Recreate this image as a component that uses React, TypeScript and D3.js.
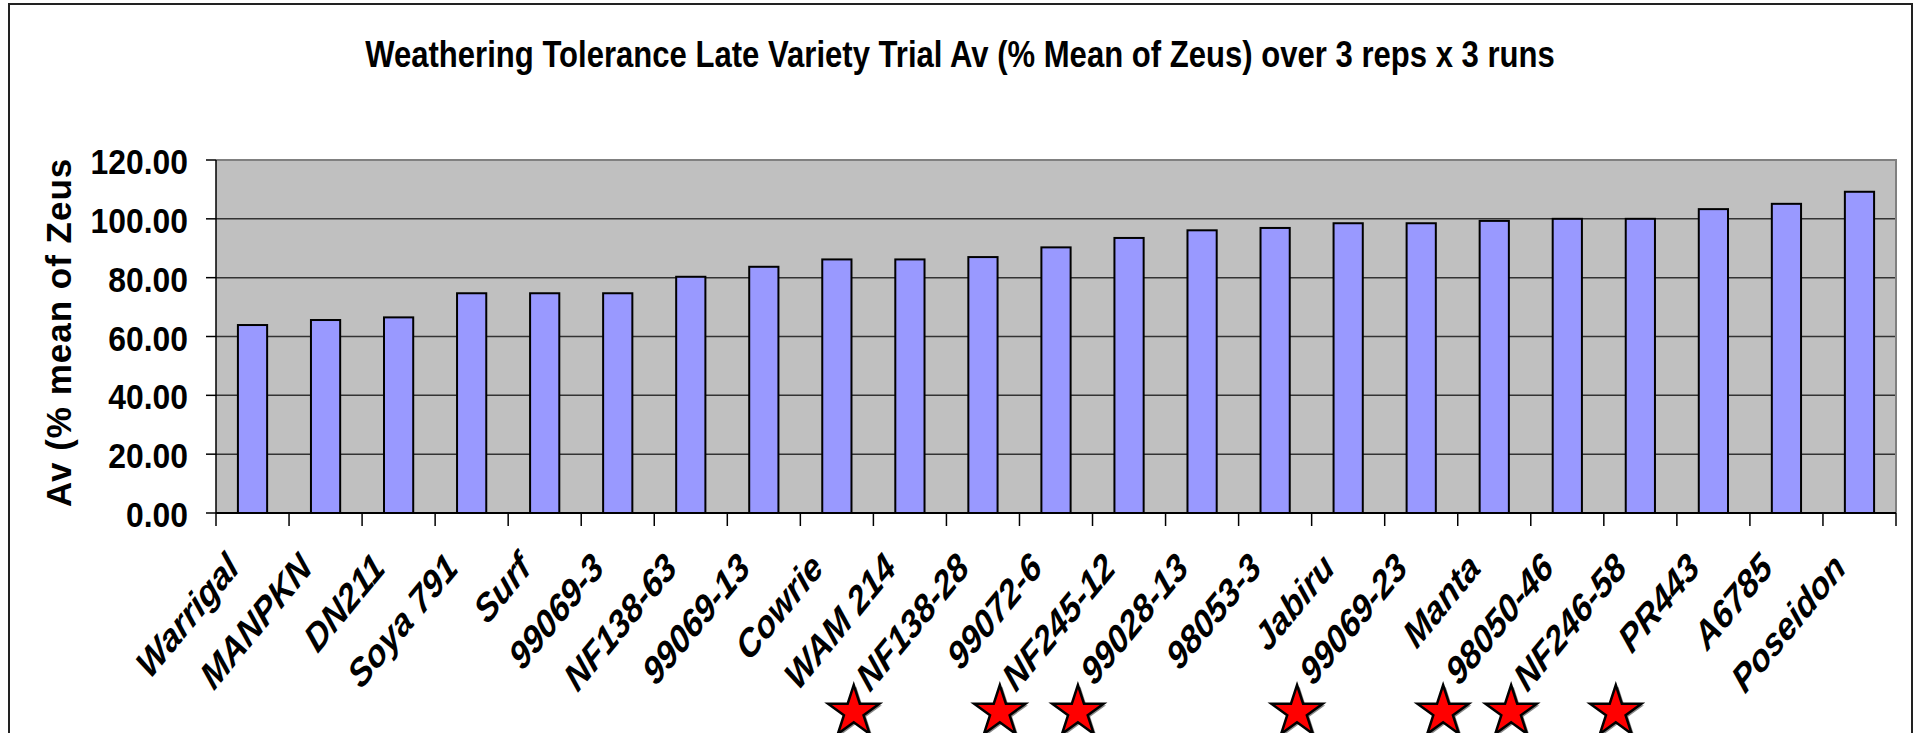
import { useEffect, useRef } from "react";
import * as d3 from "d3";

const varieties = [
  "Warrigal", "MANPKN", "DN211", "Soya 791", "Surf", "99069-3", "NF138-63", "99069-13",
  "Cowrie", "WAM 214", "NF138-28", "99072-6", "NF245-12", "99028-13", "98053-3", "Jabiru",
  "99069-23", "Manta", "98050-46", "NF246-58", "PR443", "A6785", "Poseidon",
];
const avPctZeus = [
  63.9, 65.6, 66.5, 74.7, 74.7, 74.7, 80.3, 83.7,
  86.2, 86.2, 87.0, 90.3, 93.5, 96.1, 96.9, 98.5,
  98.5, 99.3, 100.0, 100.0, 103.3, 105.1, 109.2,
];
const yTicks = [0, 20, 40, 60, 80, 100, 120];
const starred = ["NF138-28", "NF245-12", "99028-13", "99069-23", "98050-46", "NF246-58", "PR443"];
const chartTitle = "Weathering Tolerance Late Variety Trial Av (% Mean of Zeus) over 3 reps x 3 runs";
const yAxisTitle = "Av (% mean of Zeus";

const W = 1915;
const H = 733;
const FONT = "'Liberation Sans', Arial, sans-serif";

export default function App() {
  const svgRef = useRef<SVGSVGElement>(null);

  useEffect(() => {
    if (!svgRef.current) return;
    const svg = d3.select(svgRef.current);
    svg.selectAll("*").remove();

    const plot = { left: 216, right: 1896, top: 160, bottom: 513 };

    const x = d3.scaleBand<string>()
      .domain(varieties)
      .range([plot.left, plot.right])
      .paddingInner(0.6)
      .paddingOuter(0.3);
    const y = d3.scaleLinear().domain([0, 120]).range([plot.bottom, plot.top]);
    const step = x.step();

    // outer chart frame
    svg.append("rect")
      .attr("x", 9).attr("y", 4)
      .attr("width", 1903).attr("height", H + 20)
      .attr("fill", "#fff")
      .attr("stroke", "#222")
      .attr("stroke-width", 2);

    // title (narrow bold)
    svg.append("text")
      .attr("transform", `translate(960,67) scale(0.84,1)`)
      .attr("text-anchor", "middle")
      .style("font-family", FONT)
      .style("font-weight", "bold")
      .style("font-size", "37px")
      .style("fill", "#000")
      .text(chartTitle);

    // plot area
    svg.append("rect")
      .attr("x", plot.left).attr("y", plot.top)
      .attr("width", plot.right - plot.left)
      .attr("height", plot.bottom - plot.top)
      .attr("fill", "#c0c0c0");

    // gridlines
    svg.selectAll(".grid")
      .data(yTicks.filter((t) => t > 0 && t < 120))
      .enter()
      .append("line")
      .attr("x1", plot.left).attr("x2", plot.right)
      .attr("y1", (d) => y(d)).attr("y2", (d) => y(d))
      .style("stroke", "#333")
      .style("stroke-width", "1.5px");

    // plot border top/right
    svg.append("path")
      .attr("d", `M${plot.left},${plot.top}H${plot.right}V${plot.bottom}`)
      .style("fill", "none")
      .style("stroke", "#808080")
      .style("stroke-width", "2px");

    // bars
    svg.selectAll(".bar")
      .data(varieties)
      .enter()
      .append("rect")
      .attr("x", (d) => x(d) as number)
      .attr("y", (d, i) => y(avPctZeus[i]))
      .attr("width", x.bandwidth())
      .attr("height", (d, i) => y(0) - y(avPctZeus[i]))
      .style("fill", "#9999ff")
      .style("stroke", "#000")
      .style("stroke-width", "2px");

    // y axis line + ticks
    svg.append("line")
      .attr("x1", plot.left).attr("x2", plot.left)
      .attr("y1", plot.top).attr("y2", plot.bottom)
      .style("stroke", "#000").style("stroke-width", "1.5px");
    svg.selectAll(".ytick")
      .data(yTicks)
      .enter()
      .append("line")
      .attr("x1", plot.left - 10).attr("x2", plot.left)
      .attr("y1", (d) => y(d)).attr("y2", (d) => y(d))
      .style("stroke", "#000").style("stroke-width", "1.5px");
    svg.selectAll(".ylab")
      .data(yTicks)
      .enter()
      .append("text")
      .attr("transform", (d) => `translate(188,${y(d) + 14}) scale(0.91,1)`)
      .attr("text-anchor", "end")
      .style("font-family", FONT)
      .style("font-weight", "bold")
      .style("font-size", "35px")
      .style("fill", "#000")
      .text((d) => d.toFixed(2));

    // x axis line + category boundary ticks
    svg.append("line")
      .attr("x1", plot.left).attr("x2", plot.right)
      .attr("y1", plot.bottom).attr("y2", plot.bottom)
      .style("stroke", "#000").style("stroke-width", "2px");
    svg.selectAll(".xtick")
      .data(d3.range(varieties.length + 1))
      .enter()
      .append("line")
      .attr("x1", (i) => plot.left + i * step).attr("x2", (i) => plot.left + i * step)
      .attr("y1", plot.bottom).attr("y2", plot.bottom + 13)
      .style("stroke", "#000").style("stroke-width", "1.5px");

    // y axis title
    svg.append("text")
      .attr("transform", `translate(71,507) rotate(-90)`)
      .attr("text-anchor", "start")
      .style("font-family", FONT)
      .style("font-weight", "bold")
      .style("font-size", "35px")
      .style("letter-spacing", "1px")
      .style("fill", "#000")
      .text(yAxisTitle);

    // rotated category labels (slightly stretched vertically, as in the source)
    const sx = 0.92;
    const sy = 1.12;
    const labelX = (d: string) => (x(d) as number) + x.bandwidth() / 2 - 12;
    const labels = svg.selectAll(".xlab")
      .data(varieties)
      .enter()
      .append("text")
      .attr("class", "xlab")
      .attr("transform", (d) => `translate(${labelX(d)},570) scale(${sx},${sy}) rotate(-45)`)
      .attr("text-anchor", "end")
      .style("font-family", FONT)
      .style("font-weight", "bold")
      .style("font-style", "italic")
      .style("font-size", "35px")
      .style("fill", "#000")
      .text((d) => d);

    // red stars placed under the start of the marked labels
    const star = d3.symbol().type(d3.symbolStar).size(818)();
    labels.each(function (d) {
      if (!starred.includes(d)) return;
      const len = (this as SVGTextElement).getComputedTextLength();
      const cx = labelX(d) - len * Math.SQRT1_2 * sx - 16;
      const cy = 712;
      svg.append("path")
        .attr("d", star)
        .attr("transform", `translate(${cx + 2.5},${cy + 1.5})`)
        .style("fill", "#888");
      svg.append("path")
        .attr("d", star)
        .attr("transform", `translate(${cx},${cy})`)
        .style("fill", "#ff0000")
        .style("stroke", "#000")
        .style("stroke-width", "2.5px");
    });
  }, []);

  return (
    <svg
      ref={svgRef}
      width={W}
      height={H}
      style={{ position: "absolute", left: 0, top: 0, background: "#fff" }}
    />
  );
}
